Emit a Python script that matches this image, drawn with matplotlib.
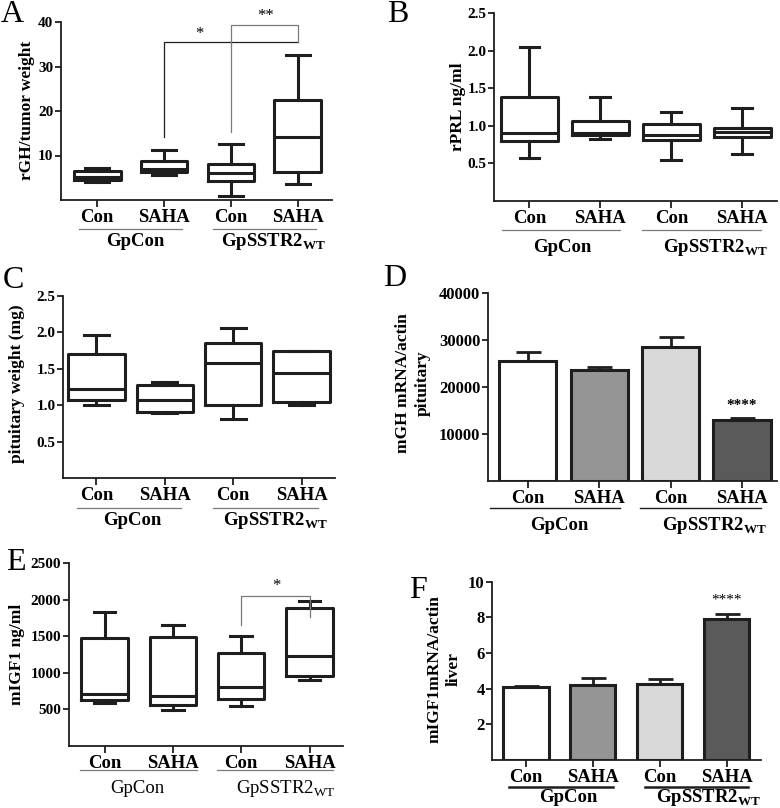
import matplotlib
matplotlib.use("Agg")
import matplotlib.pyplot as plt
import matplotlib.transforms as mtransforms

plt.rcParams['font.family'] = ['Liberation Serif', 'DejaVu Serif']
plt.rcParams['font.weight'] = 'bold'
plt.rcParams['mathtext.fontset'] = 'custom'
plt.rcParams['mathtext.rm'] = 'Liberation Serif:weight=normal'
plt.rcParams['mathtext.bf'] = 'Liberation Serif:weight=bold'

W, H = 780, 808

# --- data -------------------------------------------------------------
treatments = ['Con', 'SAHA', 'Con', 'SAHA']
group_names_bold = ['GpCon', r'GpSSTR2$_{\mathbf{WT}}$']
group_names_plain = ['GpCon', r'GpSSTR2$_{\mathrm{WT}}$']

# box stats per group: whisker low, q1, median, q3, whisker high
rgh_box = [[4.0, 4.5, 5.2, 6.6, 7.1],
           [5.7, 6.3, 6.9, 8.7, 11.2],
           [1.0, 4.3, 6.0, 8.1, 12.5],
           [3.7, 6.3, 14.1, 22.5, 32.5]]
rprl_box = [[0.57, 0.80, 0.91, 1.39, 2.05],
            [0.82, 0.88, 0.91, 1.06, 1.39],
            [0.54, 0.81, 0.88, 1.02, 1.19],
            [0.62, 0.85, 0.92, 0.97, 1.24]]
pit_box = [[1.00, 1.08, 1.23, 1.70, 1.96],
           [0.89, 0.91, 1.08, 1.28, 1.32],
           [0.82, 1.00, 1.58, 1.86, 2.06],
           [1.00, 1.04, 1.45, 1.74, 1.74]]
igf_box = [[580, 626, 703, 1480, 1836],
           [489, 557, 680, 1484, 1653],
           [543, 635, 799, 1265, 1502],
           [900, 954, 1228, 1886, 1982]]

mgh_mean = [25500, 23450, 28500, 12900]
mgh_sem = [1800, 800, 2000, 500]
igf_mrna_mean = [4.07, 4.21, 4.28, 7.89]
igf_mrna_sem = [0.10, 0.37, 0.26, 0.28]

bar_colors = ['white', '#959595', '#d9d9d9', '#5a5a5a']
ink = '#1e1e1e'

fig = plt.figure(figsize=(W / 100, H / 100), dpi=100)


def add_ax(left, top, right, bottom):
    return fig.add_axes([left / W, 1 - bottom / H, (right - left) / W, (bottom - top) / H])


def style(ax, xlim, ylim, yticks, ysize=11):
    ax.set_xlim(*xlim)
    ax.set_ylim(*ylim)
    for s in ['top', 'right']:
        ax.spines[s].set_visible(False)
    for s in ['left', 'bottom']:
        ax.spines[s].set_linewidth(1.3)
        ax.spines[s].set_color(ink)
    ax.set_yticks(yticks)
    ax.set_xticks(range(4))
    ax.set_xticklabels(treatments, fontsize=13.5)
    ax.tick_params(axis='y', length=4, width=1.3, labelsize=ysize, pad=1.5, color=ink)
    ax.tick_params(axis='x', length=5, width=1.3, pad=1.5, color=ink)


def groups(ax, spans, centers, line_off, text_off, names, color='#7a7a7a', lw=0.9, weight='bold'):
    ax_h = ax.get_position().height * H
    trans = mtransforms.blended_transform_factory(ax.transData, ax.transAxes)
    for (x0, x1), xc, name in zip(spans, centers, names):
        ax.plot([x0, x1], [-line_off / ax_h] * 2, transform=trans, clip_on=False,
                color=color, lw=lw)
        ax.text(xc, -text_off / ax_h, name, transform=trans, ha='center', va='center',
                fontsize=13.5, fontweight=weight)


def boxes(ax, data, width, capw):
    stats = [dict(whislo=d[0], q1=d[1], med=d[2], q3=d[3], whishi=d[4]) for d in data]
    lp = dict(color=ink, lw=2.2)
    ax.bxp(stats, positions=range(4), widths=width, capwidths=capw, showfliers=False,
           boxprops=lp, whiskerprops=lp, capprops=lp, medianprops=lp, manage_ticks=False)


def bars(ax, mean, sem, width):
    ax.bar(range(4), mean, width=width, color=bar_colors, edgecolor=ink, lw=2.2, zorder=2)
    ax.errorbar(range(4), mean, yerr=[[0] * 4, sem], fmt='none', ecolor=ink,
                elinewidth=2, capsize=9, capthick=2, zorder=1)


def letter(x, y, s):
    fig.text(x / W, 1 - y / H, s, ha='center', va='center', fontsize=23, fontweight='normal')


def ylab(x, y, s, ls=1.2):
    fig.text(x / W, 1 - y / H, s, rotation=90, ha='center', va='center', fontsize=12.5,
             multialignment='center', linespacing=ls)


# --- A ----------------------------------------------------------------
axA = add_ax(61, 22, 332, 200)
boxes(axA, rgh_box, 0.7, 0.35)
style(axA, (-0.54, 3.51), (0, 40), [10, 20, 30, 40])
axA.plot([1, 1, 3], [14.2, 35.5, 35.5], color=ink, lw=0.9, clip_on=False)
axA.plot([2, 2, 3, 3], [15.3, 39.3, 39.3, 35.5], color='#7a7a7a', lw=0.9, clip_on=False)
axA.text(1.53, 37.2, '*', ha='center', va='center', fontsize=12, fontweight='normal')
axA.text(2.51, 41.3, '**', ha='center', va='center', fontsize=12, fontweight='normal',
         clip_on=False)
groups(axA, [(-0.27, 1.27), (1.73, 3.27)], [0.57, 2.64], 29, 42, group_names_bold)
letter(12, 15, 'A')
ylab(27, 110, 'rGH/tumor weight')

# --- B ----------------------------------------------------------------
axB = add_ax(494, 13.3, 777, 201)
boxes(axB, rprl_box, 0.8, 0.28)
style(axB, (-0.5, 3.49), (0, 2.5), [0.5, 1.0, 1.5, 2.0, 2.5])
groups(axB, [(-0.39, 1.28), (1.59, 3.26)], [0.46, 2.62], 29, 47, group_names_bold)
letter(398, 15, 'B')
ylab(458, 107, 'rPRL ng/ml')

# --- C ----------------------------------------------------------------
axC = add_ax(63, 296, 335, 478.3)
boxes(axC, pit_box, 0.82, 0.37)
style(axC, (-0.49, 3.49), (0, 2.5), [0.5, 1.0, 1.5, 2.0, 2.5])
groups(axC, [(-0.29, 1.24), (1.71, 3.24)], [0.53, 2.62], 30, 42, group_names_bold)
letter(13, 280, 'C')
ylab(17, 384, 'pituitary weight (mg)')

# --- D ----------------------------------------------------------------
axD = add_ax(488, 292.7, 777, 480.7)
bars(axD, mgh_mean, mgh_sem, 0.8)
style(axD, (-0.555, 3.49), (0, 40000), [10000, 20000, 30000, 40000], ysize=12)
axD.text(3, 16100, '****', ha='center', va='center', fontsize=11)
groups(axD, [(-0.53, 1.29), (1.57, 3.27)], [0.45, 2.62], 27, 45, group_names_bold,
       color=ink, lw=1.0)
letter(395, 279, 'D')
ylab(413, 383, 'mGH mRNA/actin\npituitary', ls=1.3)

# --- E ----------------------------------------------------------------
axE = add_ax(69, 563.3, 343, 745.7)
boxes(axE, igf_box, 0.68, 0.32)
style(axE, (-0.52, 3.49), (0, 2500), [500, 1000, 1500, 2000, 2500])
axE.plot([2, 2, 3, 3], [1653, 2055, 2055, 1758], color='#7a7a7a', lw=0.9)
axE.text(2.51, 2190, '*', ha='center', va='center', fontsize=12, fontweight='normal')
groups(axE, [(-0.36, 1.35), (1.65, 3.35)], [0.48, 2.65], 24, 43, group_names_plain,
       weight='normal')
letter(16, 562, 'E')
ylab(17, 654, 'mIGF1 ng/ml')

# --- F ----------------------------------------------------------------
axF = add_ax(492.3, 581.7, 760.7, 760)
bars(axF, igf_mrna_mean, igf_mrna_sem, 0.68)
style(axF, (-0.5, 3.51), (0, 10), [2, 4, 6, 8, 10], ysize=12)
axF.text(3, 8.95, '****', ha='center', va='center', fontsize=11, fontweight='normal')
groups(axF, [(-0.25, 1.30), (1.78, 3.32)], [0.64, 2.73], 27, 38, group_names_bold,
       color=ink, lw=1.8)
letter(418, 590, 'F')
ylab(444, 669, 'mIGF1mRNA/actin\nliver', ls=1.3)

fig.savefig('out.png', dpi=100)
